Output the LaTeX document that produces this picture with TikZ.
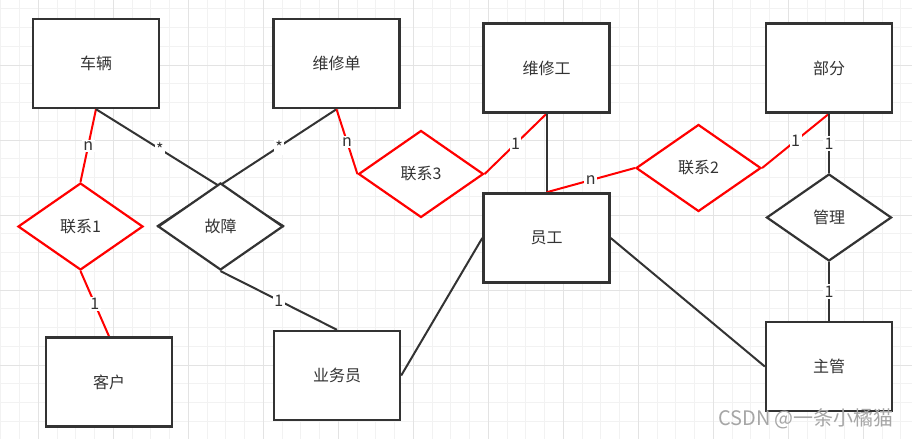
\documentclass[tikz,border=0pt]{standalone}
\usepackage{fontspec}
\setmainfont{Noto Sans CJK SC}
\usetikzlibrary{shapes.geometric}
\definecolor{dk}{HTML}{333333}
\definecolor{rd}{HTML}{FF0000}
\definecolor{gminor}{HTML}{F2F2F2}
\definecolor{gmajor}{HTML}{E3E3E3}
\definecolor{wmgray}{HTML}{A6A6A6}
\pgfdeclarelayer{gridlayer}
\pgfdeclarelayer{edgelayer}
\pgfsetlayers{gridlayer,edgelayer,main}
\tikzset{
  entity/.style={draw=dk, line width=2.4pt, fill=white, rectangle, minimum width=126pt, minimum height=89pt, inner sep=0pt, text=dk, font=\fontsize{16}{19}\selectfont},
  rel/.style={diamond, aspect=1.44, line width=2.2pt, fill=white, minimum width=125pt, minimum height=87pt, inner sep=0pt, text=dk, font=\fontsize{16}{19}\selectfont},
  redrel/.style={rel, draw=rd},
  dkrel/.style={rel, draw=dk},
  dkline/.style={draw=dk, line width=2pt},
  redline/.style={draw=rd, line width=2pt},
  card/.style={fill=white, text=dk, inner sep=1.5pt, font=\fontsize{16}{18}\selectfont},
  minorgrid/.style={draw=gminor, line width=0.8pt},
  majorgrid/.style={draw=gmajor, line width=1pt}
}
\begin{document}
\begin{tikzpicture}[x=1pt,y=-1pt]
\useasboundingbox (0,0) rectangle (912,439);
\begin{pgfonlayer}{gridlayer}
  \fill[white] (0,0) rectangle (912,439);
  \foreach \i in {0,...,48} {\draw[minorgrid] ({0.8+18.75*\i},0) -- ({0.8+18.75*\i},439);}
  \foreach \j in {0,...,23} {\draw[minorgrid] (0,{8.75+18.75*\j}) -- (912,{8.75+18.75*\j});}
  \foreach \i in {0,...,12} {\draw[majorgrid] ({38.3+75*\i},0) -- ({38.3+75*\i},439);}
  \foreach \j in {0,...,5} {\draw[majorgrid] (0,{-10+75*\j}) -- (912,{-10+75*\j});}
\end{pgfonlayer}

% entities
\node[entity] (cl)  at (96,63.5)   {车辆};
\node[entity] (wxd) at (336.5,63.5) {维修单};
\node[entity] (wxg) at (546.5,68)  {维修工};
\node[entity] (bf)  at (829,68)    {部分};
\node[entity] (yg)  at (546.5,238) {员工};
\node[entity] (zg)  at (829,366.5) {主管};
\node[entity] (kh)  at (109,382)   {客户};
\node[entity] (ywy) at (337,375.5) {业务员};

% relationships
\node[redrel] (lx1) at (80.5,226.5) {联系1};
\node[dkrel]  (gz)  at (220.5,226.5) {故障};
\node[redrel] (lx3) at (421,174)    {联系3};
\node[redrel] (lx2) at (698.5,168)  {联系2};
\node[dkrel]  (gl)  at (829,217.5)  {管理};

\node[text=wmgray, font=\fontsize{20}{22}\selectfont] (wm) at (806,419) {CSDN @一条小橘猫};

\begin{pgfonlayer}{edgelayer}
  \draw[redline] (cl.south) -- node[card] {n} (lx1.north);
  \draw[redline] (lx1.south) -- node[card] {1} (kh.north);
  \draw[dkline] (cl.south) -- node[card, pos=0.34] {*} (gz.east);
  \draw[dkline] (wxd.south) -- node[card, pos=0.32] {*} (gz.west);
  \draw[dkline] (gz.south) -- node[card] {1} (ywy.north);
  \draw[redline] (wxd.south) -- node[card] {n} (lx3.west);
  \draw[redline] (lx3.east) -- node[card] {1} (wxg.south);
  \draw[dkline] (wxg.south) -- (yg.north);
  \draw[redline] (yg.north) -- node[card] {n} (lx2.west);
  \draw[redline] (lx2.east) -- node[card] {1} (bf.south);
  \draw[dkline] (bf.south) -- node[card] {1} (gl.north);
  \draw[dkline] (gl.south) -- node[card] {1} (zg.north);
  \draw[dkline] (yg.east) -- (zg.west);
  \draw[dkline] (ywy.east) -- (yg.west);
\end{pgfonlayer}
\end{tikzpicture}
\end{document}
